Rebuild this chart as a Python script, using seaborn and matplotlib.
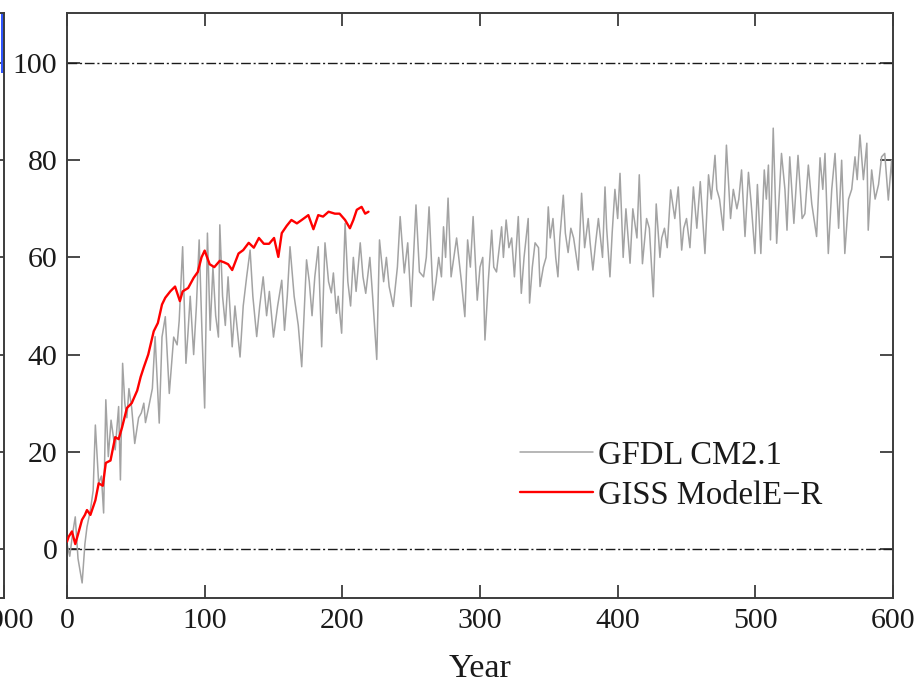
import numpy as np
import pandas as pd
import matplotlib
matplotlib.use("Agg")
import matplotlib.pyplot as plt
import seaborn as sns

# GFDL CM2.1 response (percent), annual values sampled along the run
gfdl_years = [0, 2, 4, 6, 8, 11, 13, 14.5, 17, 19, 20.6, 23, 25, 26.6, 28.2, 30, 32, 35, 37.5, 38.8,
              40.4, 42, 43.5, 45, 47, 49.2, 52, 54, 55.8, 57, 59, 62, 64, 67, 69, 71.4, 74.3, 77.5, 80, 81.5,
              84, 86.4, 88, 89.5, 92, 94, 96, 98, 100, 102, 104, 106, 108, 110, 111, 113, 115, 117, 120, 122,
              125.7, 128, 130.5, 133, 135, 137.8, 140, 142.5, 145, 147, 150, 153, 156, 158, 160, 162, 165, 168,
              170.5, 174, 176, 178, 180, 182.5, 185, 187.4, 190, 192, 193.5, 195.7, 197, 199.5, 202, 204, 206,
              208, 210, 213, 215, 217, 220, 222, 225, 227, 230, 232, 234, 237, 240, 242, 245, 247.5, 250, 253.5,
              256, 259, 261, 263, 266, 268, 270, 272, 273.5, 275, 276.8, 279, 281, 283, 286.5, 289, 291, 293,
              295, 298, 300, 302, 303.6, 306, 308.5, 310, 312, 314, 315.7, 317, 319, 321, 323, 325, 327.8, 330,
              332, 335, 336, 338, 340, 342.5, 343.6, 346, 348, 349.6, 351, 353, 355, 356.6, 358, 360.5, 362, 364,
              366, 368, 371.4, 373.8, 376, 378.6, 380, 382, 384, 386, 389, 390.8, 392, 394.4, 396, 398, 400,
              401.7, 404, 406, 409, 411, 414, 415.7, 418, 421, 423, 425.9, 428, 430.7, 432, 434, 436, 438.5,
              441.5, 444, 446.5, 448, 450, 452.5, 455, 457.5, 460, 463.4, 466, 468, 470.7, 472, 474, 476.7, 479,
              482, 484, 486.6, 488, 490, 492.5, 495, 497, 499.7, 501.5, 504, 506.5, 508, 509.5, 511, 513, 515.5,
              519, 521.5, 523, 525, 528, 531, 534, 536, 538.5, 541, 544.5, 547, 549, 550.6, 553, 555.5, 557.9,
              560.5, 562.7, 565, 567.7, 570, 572.4, 574, 576, 578.5, 581, 582, 584.5, 587, 589.5, 591.7, 594,
              596.6, 599, 600]
gfdl_values = [1.0, -1.5, 3, 6.6, -2, -7, 1, 4.5, 8, 12, 25.5, 13.5, 15, 7.4, 30.7, 19, 26.5, 20.4, 29.3, 14.2,
               38.2, 30, 27, 33, 29, 21.7, 27, 28, 30, 26, 28.7, 33, 43.7, 25.9, 43.6, 47.8, 32, 43.6, 42, 47,
               62.2, 38.2, 45, 52, 40, 50, 63.6, 45, 29, 65, 45, 58, 48, 43.6, 66.7, 52, 46, 56, 41.6, 50,
               39.5, 50, 56, 61.5, 52, 43.7, 50, 56, 48, 53, 43.6, 50, 55.3, 45, 52, 62.2, 52, 46,
               37.5, 59.5, 55, 48, 56, 62.2, 41.6, 63, 55, 52.7, 56.8, 48.5, 52, 44.4, 67, 55, 50,
               60, 53, 63, 56, 52.6, 60, 52, 39, 63.6, 55, 60, 54, 49.9, 58, 68.4, 56.8, 63, 49.9, 70.8,
               57, 56, 60, 70.4, 51.2, 55, 60, 56, 66.3, 60, 72.2, 56, 60, 64, 55, 47.8, 63.6, 58,
               68.4, 51.2, 58, 60, 43, 55, 65.6, 58, 57, 62, 66.3, 60, 67.7, 62, 64, 56, 68.4, 52.6,
               60, 68, 50.6, 58, 63, 62, 54, 58, 60, 70.4, 64, 68, 60, 56, 64, 72.8, 65, 61,
               66, 64, 57.4, 73.2, 62, 68, 63, 57.4, 63, 68, 60, 74.5, 66, 56, 65, 74, 68,
               77.3, 60, 70, 58.8, 70, 64, 77, 58.7, 68, 66, 51.9, 71, 60, 64, 66, 62, 73.9,
               68, 74.5, 61.5, 66, 68, 62, 74.5, 66, 75.6, 60.8, 77, 72, 81, 74, 72, 65.6, 83.1,
               68, 74, 70, 72, 78, 64.3, 77.5, 71, 60.8, 75, 60.8, 78, 72, 79, 63.6, 86.6, 62.9,
               81.4, 74, 65.6, 80.7, 67, 81, 68, 69, 79, 71, 64.3, 80.5, 74, 81.4, 60.8, 74, 81.4,
               66, 80, 60.8, 72, 74, 80.7, 76, 85.2, 76, 83.5, 65.6, 78, 72, 75, 80.7, 81.4,
               71.8, 80, 74]

# GISS ModelE-R response (percent)
giss_years = [0, 1.2, 3.6, 6, 8, 10.9, 13, 14.5, 17, 20.6, 23, 26, 28.2, 31.6, 35, 37.5, 40, 43.5, 47, 51,
              53.5, 55.8, 59, 63, 66, 69, 71.4, 75, 78.5, 82, 84, 88, 92, 95, 97.7, 100, 103.6, 107, 111,
              114, 117, 120, 124.6, 128, 132, 135.7, 139.4, 143, 146.8, 150.4, 153.5, 156, 159.6, 163, 167,
              170.5, 175.3, 179, 182.5, 186, 190, 194.6, 198, 202, 205.5, 208, 210.5, 214, 216.6, 219]
giss_values = [1.5, 2.5, 3.6, 1, 3, 6, 7, 8, 7, 10, 13.5, 13, 17.7, 18.2, 23, 22.6, 25, 29, 30, 32.6,
               35.4, 37.4, 40, 44.8, 46.5, 50.3, 51.7, 53, 54, 51, 53, 53.7, 55.8, 57, 60, 61.4, 58.6, 58, 59.3,
               59, 58.6, 57.4, 60.8, 61.5, 63, 62, 64, 62.8, 62.8, 64, 60.1, 65, 66.5, 67.7, 67,
               67.7, 68.7, 65.8, 68.7, 68.4, 69.4, 69, 69, 67.7, 66, 67.7, 69.8, 70.4, 69, 69.4]

series_names = ["GFDL CM2.1", "GISS Model\u0045\u2212R"]
series_colors = ["#a3a3a3", "#ff0000"]
x_ticks = [0, 100, 200, 300, 400, 500, 600]
y_ticks = [0, 20, 40, 60, 80, 100]
x_label = "Year"

sns.set_theme(style="ticks")
plt.rcParams["font.family"] = ["Liberation Serif", "DejaVu Serif"]
plt.rcParams["axes.unicode_minus"] = True

df = pd.concat([
    pd.DataFrame({"Year": gfdl_years, "value": gfdl_values, "model": series_names[0]}),
    pd.DataFrame({"Year": giss_years, "value": giss_values, "model": series_names[1]}),
])

W, H = 922, 685
fig = plt.figure(figsize=(W / 100, H / 100), dpi=100)
ax_l, ax_r, ax_t, ax_b = 67, 893, 13, 598
ax = fig.add_axes([ax_l / W, 1 - ax_b / H, (ax_r - ax_l) / W, (ax_b - ax_t) / H])

spine_color = "#3c3c3c"
fs = 21.5
fs_leg = 23.5

# reference levels at 0 and 100 %
for lvl in (0, 100):
    ax.axhline(lvl, color="#1a1a1a", lw=1.0, dashes=(7, 2, 1.5, 2), zorder=1)

sns.lineplot(data=df[df.model == series_names[0]], x="Year", y="value", color=series_colors[0],
             lw=1.1, estimator=None, ax=ax, label=series_names[0], zorder=2)
sns.lineplot(data=df[df.model == series_names[1]], x="Year", y="value", color=series_colors[1],
             lw=1.7, estimator=None, ax=ax, label=series_names[1], zorder=3)

ax.set_xlim(0, 600)
ax.set_ylim(-10.1, 110.3)
ax.set_xticks(x_ticks)
ax.set_yticks(y_ticks)
ax.set_xticklabels([str(t) for t in x_ticks])
ax.set_yticklabels([str(t) for t in y_ticks])
ax.tick_params(direction="in", length=9.5, width=1.3, color=spine_color, labelsize=fs,
               labelcolor="#1a1a1a", top=True, right=True, pad=7)
for s in ax.spines.values():
    s.set_visible(True)
    s.set_color(spine_color)
    s.set_linewidth(1.4)
ax.set_xlabel(x_label, fontsize=24.5, color="#1a1a1a", labelpad=14)
ax.set_ylabel("")

leg = ax.legend(loc="upper left", bbox_to_anchor=(520 / W, 1 - 440 / H),
                bbox_transform=fig.transFigure, frameon=False, fontsize=fs_leg,
                handlelength=2.24, handletextpad=0.15, labelspacing=0.3, borderpad=0,
                borderaxespad=0)
for t in leg.get_texts():
    t.set_color("#1a1a1a")

# neighbouring panel, only its right edge falls inside the figure
ax0 = fig.add_axes([-0.3, 1 - ax_b / H, 0.3 + 4 / W, (ax_b - ax_t) / H])
ax0.set_xlim(0, 1000)
ax0.set_ylim(-10.1, 110.3)
ax0.fill_between([988, 1000], [98, 98], [110.3, 110.3], color="#2f55ff", lw=0)
ax0.set_xticks([1000])
ax0.set_xticklabels(["1000"])
ax0.set_yticks(y_ticks)
ax0.set_yticklabels([])
ax0.tick_params(direction="in", length=9.5, width=1.3, color=spine_color, labelsize=fs,
                labelcolor="#1a1a1a", right=True, left=False, pad=7)
for s in ax0.spines.values():
    s.set_color(spine_color)
    s.set_linewidth(1.4)

fig.savefig("out.png", dpi=100)
